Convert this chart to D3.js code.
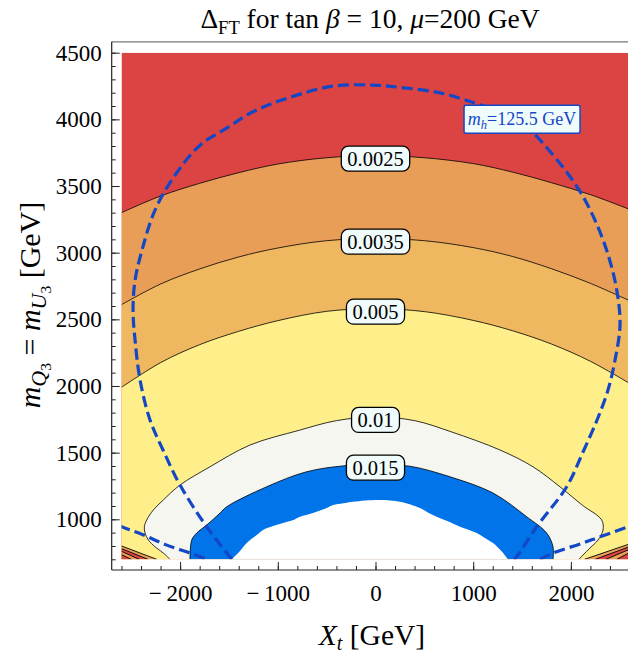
<!DOCTYPE html>
<html><head><meta charset="utf-8">
<script src="https://cdn.jsdelivr.net/npm/d3@7"></script>
<style>
body{margin:0;background:#fff}
text{font-family:"Liberation Serif","Times New Roman",serif;white-space:pre}
</style>
</head><body><svg id="chart" width="628" height="655"></svg>
<script>
// Fine-tuning contours in the (X_t, m_stop) plane, tan beta = 10, mu = 200 GeV
const levels = ["0.0025", "0.0035", "0.005", "0.01", "0.015"];

// contour lines as [X_t (GeV), m_Q3 = m_U3 (GeV)]
const contour0025 = [[-2600,3300],[-2200,3425],[-1800,3520],[-1400,3600],[-1000,3665],[-500,3712],[0,3728],[500,3712],[1000,3668],[1400,3605],[1800,3525],[2200,3435],[2600,3325]];
const contour0035 = [[-2600,2610],[-2200,2765],[-1800,2878],[-1400,2968],[-1000,3035],[-500,3090],[0,3105],[500,3090],[1000,3038],[1400,2972],[1800,2880],[2200,2770],[2600,2640]];
const contour005 = [[-2600,1990],[-2200,2175],[-1800,2310],[-1400,2410],[-1000,2490],[-500,2560],[0,2580],[500,2558],[1000,2492],[1400,2415],[1800,2315],[2200,2185],[2600,2020]];
const contour01 = [[-2103,700],[-2172,747],[-2257,794],[-2325,845],[-2359,897],[-2366,944],[-2342,995],[-2274,1070],[-2172,1145],[-2001,1257],[-1694,1394],[-1285,1557],[-780,1668],[-400,1740],[0,1768],[400,1740],[780,1655],[1274,1520],[1612,1394],[1888,1244],[2110,1110],[2315,995],[2329,920],[2278,845],[2196,785],[2124,732],[2083,700]];
const contour015 = [[-1899,700],[-1881,845],[-1830,897],[-1728,957],[-1591,1047],[-1523,1094],[-1114,1244],[-704,1357],[-295,1403],[0,1410],[353,1398],[762,1319],[1203,1197],[1548,1019],[1752,897],[1817,794],[1817,700]];
// edge of the region with no valid spectrum
const noSolutionEdge = [[-1472,700],[-1390,760],[-1318,822],[-1220,880],[-1151,920],[-1050,950],[-947,972],[-840,995],[-773,1019],[-640,1047],[-500,1085],[-435,1107],[-330,1120],[-230,1132],[46,1145],[251,1132],[455,1085],[540,1050],[626,1019],[740,985],[865,944],[1036,897],[1120,860],[1203,822],[1290,760],[1356,700]];
// m_h = 125.5 GeV contour
const higgsMain = [[-1472,700],[-1728,944],[-2001,1257],[-2175,1520],[-2308,1745],[-2410,2045],[-2461,2344],[-2482,2569],[-2461,2794],[-2390,3019],[-2257,3319],[-2052,3581],[-1796,3806],[-1523,3934],[-1254,4057],[-909,4157],[-435,4249],[-26,4257],[251,4240],[660,4199],[1018,4122],[1274,4055],[1561,3935],[1756,3785],[1941,3620],[2115,3433],[2268,3208],[2391,2960],[2473,2705],[2503,2458],[2452,2195],[2380,1970],[2268,1745],[2124,1505],[1957,1244],[1650,944],[1445,720],[1418,700]];
const higgsLeft = [[-2620,950],[-2600,944],[-2376,883],[-2150,810],[-1899,747],[-1728,700]];
const higgsRight = [[1684,700],[1817,747],[2124,822],[2298,869],[2600,947]];
const higgsLabelAt = [1500, 4000];
const higgsLabel = "125.5 GeV";
// crowded contours in the lower corners
const cornerLeft = [[[-2600,800],[-2240,700]],[[-2600,780],[-2330,700]],[[-2600,760],[-2420,700]],[[-2600,735],[-2500,700]]];
const cornerRight = [[[2600,815],[2140,700]],[[2600,795],[2250,700]],[[2600,775],[2360,700]],[[2600,750],[2470,700]]];

// axis ticks
const xMajor = [-2000, -1000, 0, 1000, 2000];
const xMinor = d3.range(-2600, 2601, 200);
const yMajor = [1000, 1500, 2000, 2500, 3000, 3500, 4000, 4500];
const yMinor = d3.range(700, 4501, 100);

const colors = {
  red: "#db4443", band2: "#e99e58", band3: "#efb860", yellow: "#feef8a",
  pale: "#f6f6f0", blue: "#0074e8", dash: "#1347c6", labelFill: "#f0fbfb"
};

const svg = d3.select("#chart");
const x = d3.scaleLinear().domain([-2600, 2600]).range([121.5, 629.5]);
const y = d3.scaleLinear().domain([700, 4500]).range([559.3, 52.7]);
const frame = {left: 111.7, top: 41.8, bottom: 570, right: x(2700)};

svg.append("defs").append("clipPath").attr("id", "plotClip")
  .append("rect").attr("x", x(-2600)).attr("y", y(4500))
  .attr("width", x(2600) - x(-2600)).attr("height", y(700) - y(4500));

const plot = svg.append("g").attr("clip-path", "url(#plotClip)");
const smooth = d3.curveCatmullRom.alpha(0.5);
const line = d3.line().x(d => x(d[0])).y(d => y(d[1])).curve(smooth);
const under = d3.area().x(d => x(d[0])).y0(y(700)).y1(d => y(d[1])).curve(smooth);
const underLin = d3.area().x(d => x(d[0])).y0(y(700)).y1(d => y(d[1]));
const lineLin = d3.line().x(d => x(d[0])).y(d => y(d[1]));

// filled bands
plot.append("rect").attr("x", x(-2600)).attr("y", y(4500))
  .attr("width", x(2600) - x(-2600)).attr("height", y(700) - y(4500)).attr("fill", colors.red);
plot.append("path").attr("d", under(contour0025)).attr("fill", colors.band2);
plot.append("path").attr("d", under(contour0035)).attr("fill", colors.band3);
plot.append("path").attr("d", under(contour005)).attr("fill", colors.yellow);
plot.append("path").attr("d", line(contour01) + "Z").attr("fill", colors.pale);
plot.append("path").attr("d", line(contour015) + "Z").attr("fill", colors.blue);
plot.append("path").attr("d", line(noSolutionEdge) + "Z").attr("fill", "#fff");

// corner bundles
[cornerLeft, cornerRight].forEach(set => {
  set.forEach((seg, i) => {
    plot.append("path").attr("d", underLin(seg)).attr("fill", i % 2 ? colors.red : colors.band2);
  });
  set.forEach(seg => {
    plot.append("path").attr("d", lineLin(seg)).attr("fill", "none").attr("stroke", "#000").attr("stroke-width", 0.9);
  });
});

// contour lines
[contour0025, contour0035, contour005, contour01, contour015].forEach(c => {
  plot.append("path").attr("d", line(c)).attr("fill", "none")
    .attr("stroke", "#000").attr("stroke-width", 0.8);
});

// m_h contour, dashed
[higgsMain, higgsLeft, higgsRight].forEach(c => {
  plot.append("path").attr("d", line(c)).attr("fill", "none")
    .attr("stroke", colors.dash).attr("stroke-width", 3.2).attr("stroke-dasharray", "11,5");
});

// contour labels, placed where each line crosses X_t = 0
[contour0025, contour0035, contour005, contour01, contour015].forEach((c, i) => {
  const p = c.find(d => d[0] === 0);
  const cx = x(p[0]), cy = y(p[1]) + 3;
  const g = svg.append("g");
  const t = g.append("text").attr("x", cx).attr("y", cy + 7).attr("text-anchor", "middle")
    .attr("font-size", 20.5).text(levels[i]);
  const w = t.node().getComputedTextLength() + 12;
  g.insert("rect", "text").attr("x", cx - w / 2).attr("y", cy - 12.5).attr("width", w).attr("height", 25)
    .attr("rx", 7).attr("fill", colors.labelFill).attr("stroke", "#000").attr("stroke-width", 1.3);
});

// rich text helper: parts carry their own size, italics and baseline shift
function rich(sel, parts, base) {
  let prev = 0;
  parts.forEach(p => {
    const shift = p.shift || 0;
    const ts = sel.append("tspan").attr("dy", shift - prev).attr("font-size", p.size || base).text(p.t);
    if (p.it) ts.attr("font-style", "italic");
    prev = shift;
  });
}

// m_h label
{
  const cx = x(higgsLabelAt[0]), cy = y(higgsLabelAt[1]);
  const g = svg.append("g");
  const t = g.append("text").attr("x", cx).attr("y", cy + 6).attr("text-anchor", "middle").attr("fill", colors.dash);
  rich(t, [{t: "m", it: true}, {t: "h", it: true, size: 12.5, shift: 4}, {t: "=" + higgsLabel, shift: 0}], 18);
  g.insert("rect", "text").attr("x", cx - 58).attr("y", cy - 14).attr("width", 116).attr("height", 28)
    .attr("rx", 2).attr("fill", colors.labelFill).attr("stroke", colors.dash).attr("stroke-width", 1.5);
}

// frame
svg.append("line").attr("x1", frame.left).attr("x2", frame.right).attr("y1", frame.top).attr("y2", frame.top)
  .attr("stroke", "#777").attr("stroke-width", 1.2);
svg.append("line").attr("x1", frame.left).attr("x2", frame.left).attr("y1", frame.top).attr("y2", frame.bottom)
  .attr("stroke", "#222").attr("stroke-width", 1.2);
svg.append("line").attr("x1", frame.left).attr("x2", frame.right).attr("y1", frame.bottom).attr("y2", frame.bottom)
  .attr("stroke", "#222").attr("stroke-width", 1.2);

// axes with inward ticks
const tickFmt = d => d < 0 ? "\u2212\u2009" + Math.abs(d) : String(d);
function styleAxis(g) {
  g.select(".domain").remove();
  g.selectAll("line").attr("stroke", "#222");
  g.selectAll("text").attr("font-size", 23).attr("fill", "#000")
    .style("font-family", '"Liberation Serif","Times New Roman",serif');
}
svg.append("g").attr("transform", `translate(${frame.left},0)`)
  .call(d3.axisLeft(y).tickValues(yMinor).tickSize(-4).tickFormat("")).call(styleAxis);
svg.append("g").attr("transform", `translate(${frame.left},0)`)
  .call(d3.axisLeft(y).tickValues(yMajor).tickSize(-8).tickPadding(10).tickFormat(tickFmt)).call(styleAxis);
svg.append("g").attr("transform", `translate(0,${frame.bottom})`)
  .call(d3.axisBottom(x).tickValues(xMinor).tickSize(-4).tickFormat("")).call(styleAxis);
svg.append("g").attr("transform", `translate(0,${frame.bottom})`)
  .call(d3.axisBottom(x).tickValues(xMajor).tickSize(-8).tickPadding(15).tickFormat(tickFmt)).call(styleAxis);

// title
{
  const t = svg.append("text").attr("x", 370).attr("y", 28).attr("text-anchor", "middle");
  rich(t, [{t: "Δ"}, {t: "FT", size: 18.5, shift: 5.5}, {t: " for tan ", shift: 0}, {t: "β", it: true},
           {t: " = 10, "}, {t: "μ", it: true}, {t: "=200 GeV"}], 27.5);
}
// x label
{
  const t = svg.append("text").attr("x", 372).attr("y", 645).attr("text-anchor", "middle");
  rich(t, [{t: "X", it: true}, {t: "t", it: true, size: 20, shift: 5}, {t: " [GeV]", shift: 0}], 29.5);
}
// y label
{
  const t = svg.append("text").attr("transform", "translate(40,305) rotate(-90)").attr("text-anchor", "middle");
  rich(t, [{t: "m", it: true}, {t: "Q", it: true, size: 22, shift: 6}, {t: "3", size: 15.5, shift: 11},
           {t: " = ", shift: 0}, {t: "m", it: true}, {t: "U", it: true, size: 22, shift: 6}, {t: "3", size: 15.5, shift: 11},
           {t: " [GeV]", shift: 0}], 30);
}
</script>
</body></html>
